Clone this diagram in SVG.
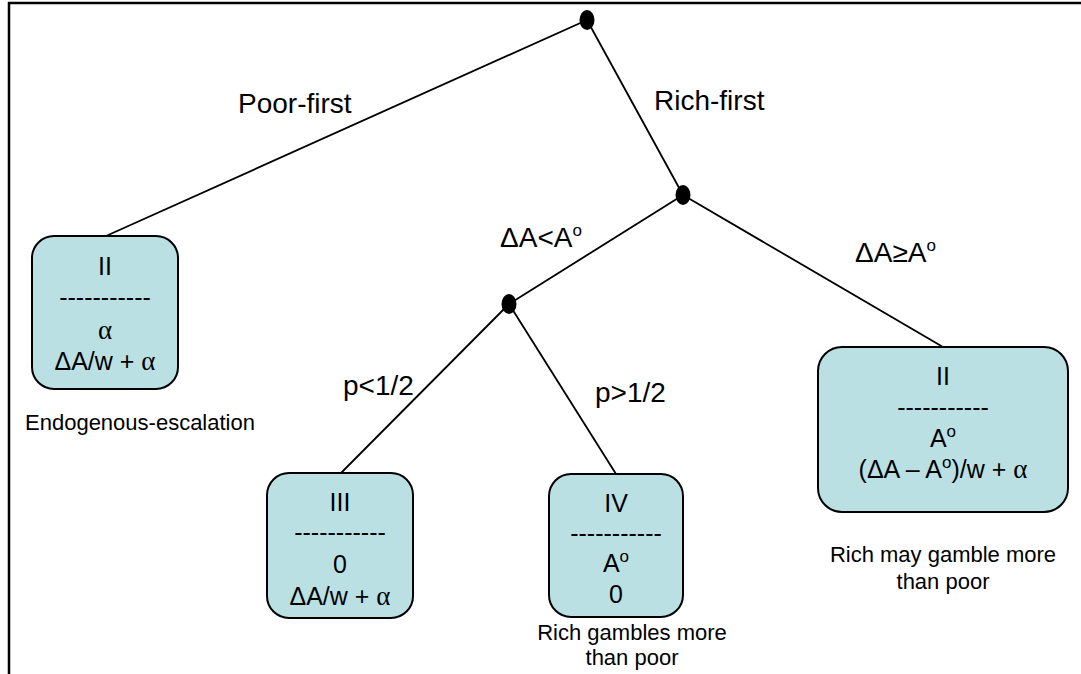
<svg xmlns="http://www.w3.org/2000/svg" width="1081" height="674" viewBox="0 0 1081 674">
<style>
.frame{fill:none;stroke:#000;stroke-width:2.5}
.edge{stroke:#000;stroke-width:1.8;fill:none}
.dot{fill:#000}
.box{fill:#BBE0E3;stroke:#000;stroke-width:2}
text{font-family:"Liberation Sans",Arial,sans-serif;fill:#000}
.bt{font-size:25px;text-anchor:middle}
.el{font-size:28px}
.nt{font-size:22px;text-anchor:middle}
.sup{font-size:17px}
.gr{font-family:"Liberation Serif","Times New Roman",serif;font-size:27px}
</style>
<rect width="1081" height="674" fill="#fff"/>
<path class="frame" d="M9,674 V3 H1081"/>
<g id="connectors">
<line class="edge" x1="587" y1="20" x2="106" y2="236"/>
<line class="edge" x1="587" y1="20" x2="683" y2="195"/>
<line class="edge" x1="683" y1="195" x2="509" y2="304"/>
<line class="edge" x1="683" y1="195" x2="943" y2="347"/>
<line class="edge" x1="509" y1="304" x2="341" y2="473"/>
<line class="edge" x1="509" y1="304" x2="616" y2="474"/>
<text class="el" x="238" y="113">Poor-first</text>
<text class="el" x="654" y="110">Rich-first</text>
<text class="el" x="500" y="247">ΔA&lt;A<tspan class="sup" dy="-11">o</tspan></text>
<text class="el" x="855" y="262">ΔA≥A<tspan class="sup" dy="-11">o</tspan></text>
<text class="el" x="343" y="395">p&lt;1/2</text>
<text class="el" x="595" y="402">p&gt;1/2</text>
</g>
<g id="root"><ellipse class="dot" cx="587" cy="20" rx="7.5" ry="10"/></g>
<g id="rich-node"><ellipse class="dot" cx="683" cy="195" rx="7.5" ry="10"/></g>
<g id="small-node"><ellipse class="dot" cx="509" cy="304" rx="7.5" ry="10"/></g>
<g id="box-poor">
<rect class="box" x="32" y="236" width="146" height="153" rx="22"/>
<text class="bt" x="105" y="275">II</text>
<text class="bt" x="105" y="306">-----------</text>
<text class="bt" x="105" y="339"><tspan class="gr">α</tspan></text>
<text class="bt" x="105" y="370">ΔA/w + <tspan class="gr">α</tspan></text>
<text class="nt" x="140" y="430">Endogenous-escalation</text>
</g>
<g id="box-III">
<rect class="box" x="267" y="473" width="146" height="145" rx="22"/>
<text class="bt" x="340" y="511">III</text>
<text class="bt" x="340" y="541">-----------</text>
<text class="bt" x="340" y="573">0</text>
<text class="bt" x="340" y="605">ΔA/w + <tspan class="gr">α</tspan></text>
</g>
<g id="box-IV">
<rect class="box" x="549" y="474" width="134" height="143" rx="22"/>
<text class="bt" x="616" y="512">IV</text>
<text class="bt" x="616" y="542">-----------</text>
<text class="bt" x="616" y="572">A<tspan class="sup" dy="-10">o</tspan></text>
<text class="bt" x="616" y="603">0</text>
<text class="nt" x="632" y="640">Rich gambles more</text>
<text class="nt" x="632" y="665">than poor</text>
</g>
<g id="box-II-rich">
<rect class="box" x="818" y="347" width="250" height="165" rx="24"/>
<text class="bt" x="943" y="385">II</text>
<text class="bt" x="943" y="416">-----------</text>
<text class="bt" x="943" y="447">A<tspan class="sup" dy="-10">o</tspan></text>
<text class="bt" x="943" y="478">(ΔA – A<tspan class="sup" dy="-10">o</tspan><tspan dy="10">)/w + </tspan><tspan class="gr">α</tspan></text>
<text class="nt" x="943" y="562">Rich may gamble more</text>
<text class="nt" x="943" y="589">than poor</text>
</g>
</svg>
